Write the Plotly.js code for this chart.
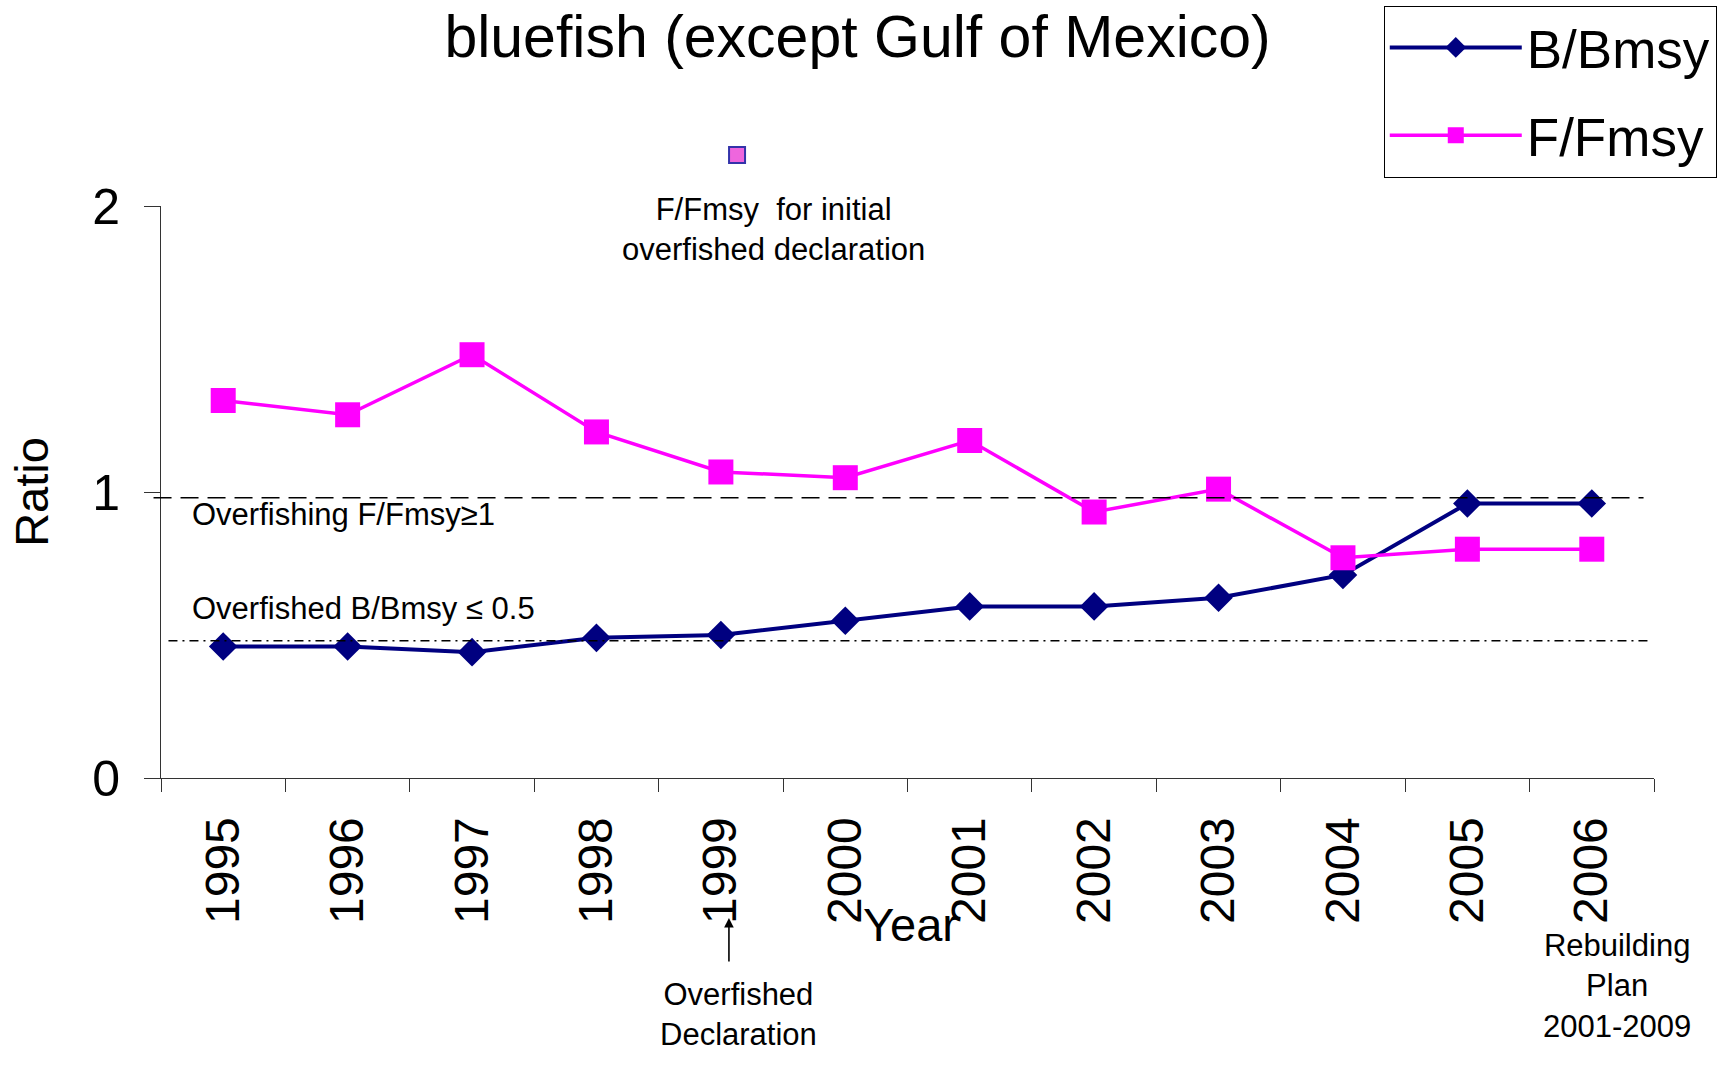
<!DOCTYPE html>
<html>
<head>
<meta charset="utf-8">
<script src="https://cdn.plot.ly/plotly-3.0.1.min.js"></script>
<style>html,body{margin:0;padding:0;background:#fff;}#chart{width:1729px;height:1065px;}</style>
</head>
<body>
<div id="chart"></div>
<script>
// ---- data ----
const years = ['1995','1996','1997','1998','1999','2000','2001','2002','2003','2004','2005','2006'];
const bBmsy = [0.46, 0.46, 0.44, 0.49, 0.50, 0.55, 0.60, 0.60, 0.63, 0.71, 0.96, 0.96];
const fFmsy = [1.32, 1.27, 1.48, 1.21, 1.07, 1.05, 1.18, 0.93, 1.01, 0.77, 0.80, 0.80];
const initialDeclX = [4.13];   // position along year axis (index units, near 1999)
const initialDeclY = [2.178];  // F/Fmsy for initial overfished declaration
const overfishingThreshold = [0.98];
const overfishedThreshold = [0.48];

const FONT = 'Liberation Sans, Arial, Helvetica, sans-serif';

// geometry: main y axis (0..2) occupies lower part of plot area; y2 covers full area
const Y_DOMAIN_TOP = 0.8693;
const Y2_MAX = 2 / Y_DOMAIN_TOP;

const traces = [
  {
    x: years, y: bBmsy, name: 'B/Bmsy', type: 'scatter', mode: 'lines+markers',
    legendgroup: 'b',
    line: {color: '#000080', width: 4},
    marker: {symbol: 'diamond', size: 22, color: '#000080'},
    cliponaxis: false
  },
  {
    x: years, y: fFmsy, name: 'F/Fmsy', type: 'scatter', mode: 'lines+markers',
    legendgroup: 'f',
    line: {color: '#FF00FF', width: 3.5},
    marker: {symbol: 'square', size: 25, color: '#FF00FF'},
    cliponaxis: false
  },
  {
    x: initialDeclX, y: initialDeclY, xaxis: 'x2', yaxis: 'y2', type: 'scatter', mode: 'markers',
    showlegend: false, cliponaxis: false, hoverinfo: 'skip',
    marker: {symbol: 'square', size: 16, color: '#EE66DD', line: {color: '#3333AA', width: 2}}
  }
];

const annFont = {family: FONT, size: 31, color: '#000'};

const layout = {
  width: 1729, height: 1065,
  paper_bgcolor: '#fff', plot_bgcolor: 'rgba(0,0,0,0)',
  margin: {l: 161, r: 75, t: 120, b: 287, autoexpand: false},
  font: {family: FONT, color: '#000'},
  title: {
    text: 'bluefish (except Gulf of Mexico)',
    font: {family: FONT, size: 59, color: '#000'},
    xref: 'container', x: 0.496, xanchor: 'center',
    yref: 'container', y: 0.966, yanchor: 'middle'
  },
  showlegend: true,
  legend: {
    x: 0.819, xanchor: 'left', y: 1.174, yanchor: 'top',
    bgcolor: '#fff', bordercolor: '#000', borderwidth: 1,
    font: {family: FONT, size: 53, color: '#000'},
    itemwidth: 132, tracegroupgap: 16, traceorder: 'grouped'
  },
  xaxis: {
    type: 'category', range: [-0.5, 11.5], domain: [0, 1],
    tickson: 'boundaries', ticks: 'outside', ticklen: 13, tickwidth: 1, tickcolor: '#333',
    showline: true, linecolor: '#333', linewidth: 1,
    showgrid: false, zeroline: false,
    tickangle: -90, tickfont: {family: FONT, size: 48, color: '#000'},
    ticklabelstandoff: 19,
    automargin: false
  },
  yaxis: {
    range: [0, 2], domain: [0, Y_DOMAIN_TOP], tickvals: [0, 1, 2], ticktext: ['0', '1', '2'],
    ticks: 'outside', ticklen: 16, tickwidth: 1, tickcolor: '#333',
    showline: true, linecolor: '#333', linewidth: 1,
    showgrid: false, zeroline: false,
    tickfont: {family: FONT, size: 50, color: '#000'},
    ticklabelstandoff: 14,
    title: {text: 'Ratio', font: {family: FONT, size: 47, color: '#000'}, standoff: 28},
    automargin: false
  },
  xaxis2: {
    anchor: 'y2', domain: [0, 1], type: 'linear', range: [-0.5, 11.5], visible: false, fixedrange: true
  },
  yaxis2: {
    anchor: 'x2', domain: [0, 1], type: 'linear', range: [0, Y2_MAX], visible: false, fixedrange: true
  },
  shapes: [
    {type: 'line', xref: 'paper', yref: 'y', x0: -0.005, x1: 0.993,
     y0: overfishingThreshold[0], y1: overfishingThreshold[0],
     line: {color: '#000', width: 1.6, dash: '18px,9px'}},
    {type: 'line', xref: 'paper', yref: 'y', x0: 0.005, x1: 0.998,
     y0: overfishedThreshold[0], y1: overfishedThreshold[0],
     line: {color: '#000', width: 1.4, dash: '9px,5px,2px,5px'}}
  ],
  annotations: [
    {text: 'Overfishing F/Fmsy\u22651', xref: 'paper', yref: 'y', x: 0.0194, y: 0.923,
     xanchor: 'left', yanchor: 'middle', showarrow: false, font: annFont},
    {text: 'Overfished B/Bmsy \u2264 0.5', xref: 'paper', yref: 'y', x: 0.0194, y: 0.591,
     xanchor: 'left', yanchor: 'middle', showarrow: false, font: annFont},
    {text: 'F/Fmsy\u00a0 for initial<br>overfished declaration', xref: 'paper', yref: 'y',
     x: 0.41, y: 1.918, xanchor: 'center', yanchor: 'middle', showarrow: false, font: annFont},
    {text: 'Year', xref: 'paper', yref: 'paper', x: 0.5017, y: -0.2219,
     xanchor: 'center', yanchor: 'middle', showarrow: false,
     font: {family: FONT, size: 47, color: '#000'}},
    {text: 'Overfished<br>Declaration', xref: 'paper', yref: 'paper', x: 0.3865, y: -0.360,
     xanchor: 'center', yanchor: 'middle', showarrow: false, font: annFont},
    {text: '', xref: 'paper', yref: 'paper', x: 0.3804, y: -0.2128,
     showarrow: true, ax: 0, ay: 45, arrowhead: 2, arrowsize: 1.2, arrowwidth: 1.6, arrowcolor: '#000'},
    {text: 'Rebuilding<br>Plan<br>2001-2009', xref: 'paper', yref: 'paper', x: 0.975, y: -0.316,
     xanchor: 'center', yanchor: 'middle', showarrow: false, font: annFont}
  ]
};

Plotly.newPlot('chart', traces, layout, {displayModeBar: false, responsive: false});
</script>
</body>
</html>
